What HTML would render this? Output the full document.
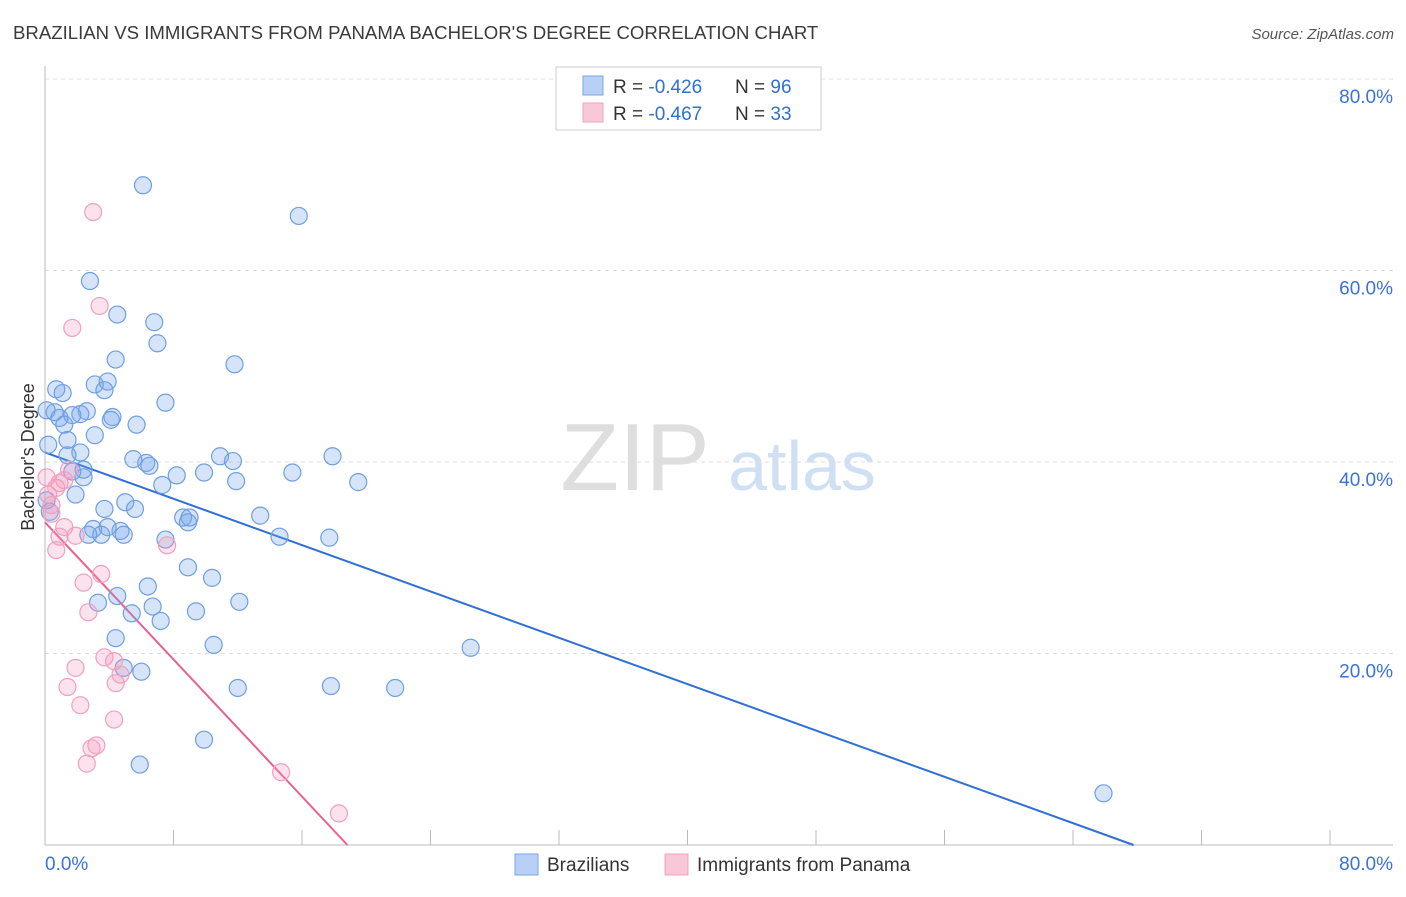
<!DOCTYPE html>
<html><head><meta charset="utf-8"><style>
body{margin:0;background:#fff;font-family:"Liberation Sans",sans-serif;}
svg text{font-family:"Liberation Sans",sans-serif;}
</style></head><body>
<svg id="chart" width="1406" height="892" xmlns="http://www.w3.org/2000/svg">
<text x="13" y="39" font-size="18.6" fill="#3a3a3a">BRAZILIAN VS IMMIGRANTS FROM PANAMA BACHELOR'S DEGREE CORRELATION CHART</text>
<text x="1394" y="39" font-size="15" fill="#555" text-anchor="end" font-style="italic">Source: ZipAtlas.com</text>
<text transform="translate(34,457) rotate(-90)" font-size="18" fill="#333" text-anchor="middle">Bachelor's Degree</text>
<g>
<text x="635" y="490" font-size="96" fill="#dedede" text-anchor="middle" font-family="Liberation Serif">ZIP</text>
<text x="802" y="490" font-size="70" fill="#cfdff4" text-anchor="middle">atlas</text>
</g>
<g id="grid"></g>
<g id="axes"></g>
<g id="lines"></g>
<g id="pts"></g>
<g>
<rect x="556" y="67" width="265" height="63" fill="#fff" stroke="#ccc"/>
<rect x="583" y="76" width="20" height="19" fill="#b8d0f4" stroke="#7aa6e6"/>
<rect x="583" y="103" width="20" height="19" fill="#f9c8d8" stroke="#f0a0bc"/>
<text x="613" y="93" font-size="19" fill="#333">R = <tspan fill="#2f6fd6">-0.426</tspan></text>
<text x="735" y="93" font-size="19" fill="#333">N = <tspan fill="#2f6fd6">96</tspan></text>
<text x="613" y="120" font-size="19" fill="#333">R = <tspan fill="#2f6fd6">-0.467</tspan></text>
<text x="735" y="120" font-size="19" fill="#333">N = <tspan fill="#2f6fd6">33</tspan></text>
</g>
<g>
<rect x="515" y="854" width="23" height="21" fill="#b8d0f4" stroke="#7aa6e6"/>
<text x="547" y="871" font-size="19" fill="#333">Brazilians</text>
<rect x="665" y="854" width="23" height="21" fill="#f9c8d8" stroke="#f0a0bc"/>
<text x="697" y="871" font-size="19" fill="#333">Immigrants from Panama</text>
</g>
</svg>
<script>
const yTicks=[20,40,60,80];
const xTickLabels=["0.0%","80.0%"];
const blueX=[6.1,15.8,2.8,4.5,6.8,7.0,4.4,11.8,3.1,3.9,0.7,1.1,3.7,7.5,0.6,0.1,2.6,0.9,1.7,2.2,4.2,4.1,5.7,1.2,3.1,1.4,2.2,1.4,5.5,6.3,6.5,10.9,11.7,17.9,2.4,1.7,2.4,8.2,9.9,11.9,15.4,7.3,19.5,1.9,5.0,3.7,5.6,8.6,8.9,9.0,13.4,3.0,3.9,4.7,4.9,3.5,2.7,7.5,14.6,17.7,8.9,10.4,6.4,4.5,3.3,6.7,12.1,9.4,5.4,7.2,4.4,10.5,26.5,4.9,6.0,12.0,17.8,21.8,9.9,5.9,65.9,0.2,0.3,0.1];
const blueY=[68.9,65.7,58.9,55.4,54.6,52.4,50.7,50.2,48.1,48.4,47.6,47.2,47.5,46.2,45.2,45.4,45.3,44.6,44.9,45.0,44.7,44.4,43.9,43.9,42.8,42.3,41.0,40.7,40.3,39.9,39.6,40.6,40.1,40.6,39.2,39.0,38.4,38.6,38.9,38.0,38.9,37.6,37.9,36.6,35.8,35.1,35.1,34.2,33.7,34.2,34.4,33.0,33.2,32.8,32.4,32.4,32.4,31.9,32.2,32.1,29.0,27.9,27.0,26.0,25.3,24.9,25.4,24.4,24.2,23.4,21.6,20.9,20.6,18.5,18.1,16.4,16.6,16.4,11.0,8.4,5.4,41.8,34.8,36.0];
const pinkX=[3.0,3.4,1.7,0.1,0.9,1.5,0.7,1.2,0.2,0.4,0.4,1.2,0.9,1.9,0.7,7.6,3.5,2.4,2.7,3.7,4.3,1.9,4.7,4.4,1.4,2.2,4.3,3.2,2.9,2.6,14.7,18.3];
const pinkY=[66.1,56.3,54.0,38.4,37.8,39.2,37.3,38.1,36.6,35.5,34.6,33.2,32.2,32.3,30.8,31.3,28.3,27.4,24.3,19.6,19.2,18.5,17.8,16.9,16.5,14.6,13.1,10.4,10.1,8.5,7.6,3.3];
const blueLine=[41.0,-0.605]; // intercept, slope
const pinkLine=[33.7,-1.79];
const X=v=>45+v*16.0625, Y=v=>845-v*9.575;
const NS="http://www.w3.org/2000/svg";
function mk(t,a,p){const e=document.createElementNS(NS,t);for(const k in a)e.setAttribute(k,a[k]);p.appendChild(e);return e;}
const grid=document.getElementById('grid'),axes=document.getElementById('axes');
yTicks.forEach(t=>{
 const l=mk('line',{x1:45,x2:1393,y1:Y(t),y2:Y(t),stroke:'#ddd','stroke-dasharray':'4,4'},grid);
 
 
 const tx=mk('text',{x:1393,y:Y(t)+24,'font-size':19,fill:'#3b72d8','text-anchor':'end'},axes);
 tx.textContent=t.toFixed(1)+'%';
 
 
});
const ax=mk('line',{x1:45,x2:1393,y1:845,y2:845,stroke:'#bbb'},axes);


const ay=mk('line',{x1:45,x2:45,y1:66,y2:845,stroke:'#bbb'},axes);


for(let i=1;i<=10;i++){const tk=mk('line',{x1:X(i*8),x2:X(i*8),y1:830,y2:845,stroke:'#bbb'},axes);
 
 }
const xl0=mk('text',{x:45,y:870,'font-size':19,fill:'#3b72d8'},axes);xl0.textContent=xTickLabels[0];


const xl1=mk('text',{x:1393,y:870,'font-size':19,fill:'#3b72d8','text-anchor':'end'},axes);xl1.textContent=xTickLabels[1];


const pts=document.getElementById('pts'),lines=document.getElementById('lines');
blueX.forEach((x,i)=>{const c=mk('circle',{cx:X(x),cy:Y(blueY[i]),r:8.5,fill:'rgba(120,165,235,0.3)',stroke:'#6e9fe2','stroke-width':1.2},pts);
 
 });
pinkX.forEach((x,i)=>{const c=mk('circle',{cx:X(x),cy:Y(pinkY[i]),r:8.5,fill:'rgba(245,150,185,0.28)',stroke:'#f0a0bc','stroke-width':1.2},pts);
 
 });
function trend(p,col,name){const x2=-p[0]/p[1];const l=mk('line',{x1:X(0),y1:Y(p[0]),x2:X(x2),y2:Y(0),stroke:col,'stroke-width':2},lines);
 
 }
trend(blueLine,'#2f6fd6','brazilian-trendline');
trend(pinkLine,'#e8628e','panama-trendline');
</script>
</body></html>
